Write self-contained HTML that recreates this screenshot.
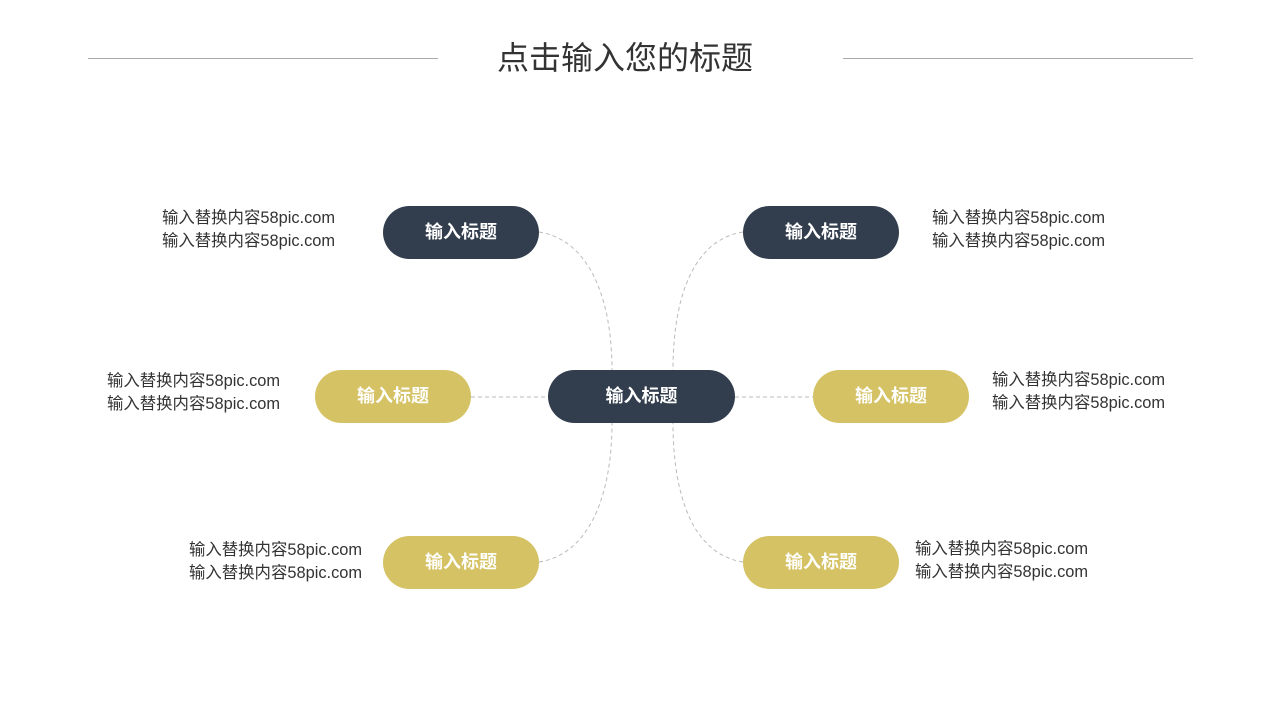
<!DOCTYPE html>
<html><head><meta charset="utf-8"><style>
body{margin:0;width:1280px;height:720px;background:#fff;position:relative;overflow:hidden;font-family:"Liberation Sans","Noto Sans CJK SC",sans-serif}
.p{position:absolute;height:53px;box-sizing:border-box;padding-bottom:3px;border-radius:27px;color:#fff;font-weight:bold;font-size:18px;display:flex;align-items:center;justify-content:center}
.d{background:#323e4e}.y{background:#d4c264}
.t{position:absolute;font-size:16.4px;color:#333;line-height:23px;white-space:nowrap}
.h{position:absolute;top:58px;height:1px;background:#aaa}
</style></head><body>
<div class="h" style="left:88px;width:350px"></div>
<div class="h" style="left:843px;width:350px"></div>
<div style="position:absolute;left:0;width:1250px;top:33px;text-align:center;font-size:32px;color:#333">点击输入您的标题</div>
<svg style="position:absolute;left:0;top:0" width="1280" height="720">
<g fill="none" stroke="#bbb" stroke-width="1" stroke-dasharray="4,3">
<path d="M539 232 C590 240 612 300 612 370"/>
<path d="M743 232 C692 240 673 300 673 370"/>
<path d="M539 562 C590 554 612 494 612 423"/>
<path d="M743 562 C692 554 673 494 673 423"/>
<path d="M471 397 H548"/><path d="M735 397 H813"/>
</g></svg>
<div class="p d" style="left:383px;top:206px;width:156px">输入标题</div>
<div class="p d" style="left:743px;top:206px;width:156px">输入标题</div>
<div class="p d" style="left:548px;top:370px;width:187px">输入标题</div>
<div class="p y" style="left:315px;top:370px;width:156px">输入标题</div>
<div class="p y" style="left:813px;top:370px;width:156px">输入标题</div>
<div class="p y" style="left:383px;top:536px;width:156px">输入标题</div>
<div class="p y" style="left:743px;top:536px;width:156px">输入标题</div>
<div class="t" style="left:162px;top:207px">输入替换内容58pic.com<br>输入替换内容58pic.com</div>
<div class="t" style="left:932px;top:207px">输入替换内容58pic.com<br>输入替换内容58pic.com</div>
<div class="t" style="left:107px;top:370px">输入替换内容58pic.com<br>输入替换内容58pic.com</div>
<div class="t" style="left:992px;top:369px">输入替换内容58pic.com<br>输入替换内容58pic.com</div>
<div class="t" style="left:189px;top:539px">输入替换内容58pic.com<br>输入替换内容58pic.com</div>
<div class="t" style="left:915px;top:538px">输入替换内容58pic.com<br>输入替换内容58pic.com</div>
</body></html>
